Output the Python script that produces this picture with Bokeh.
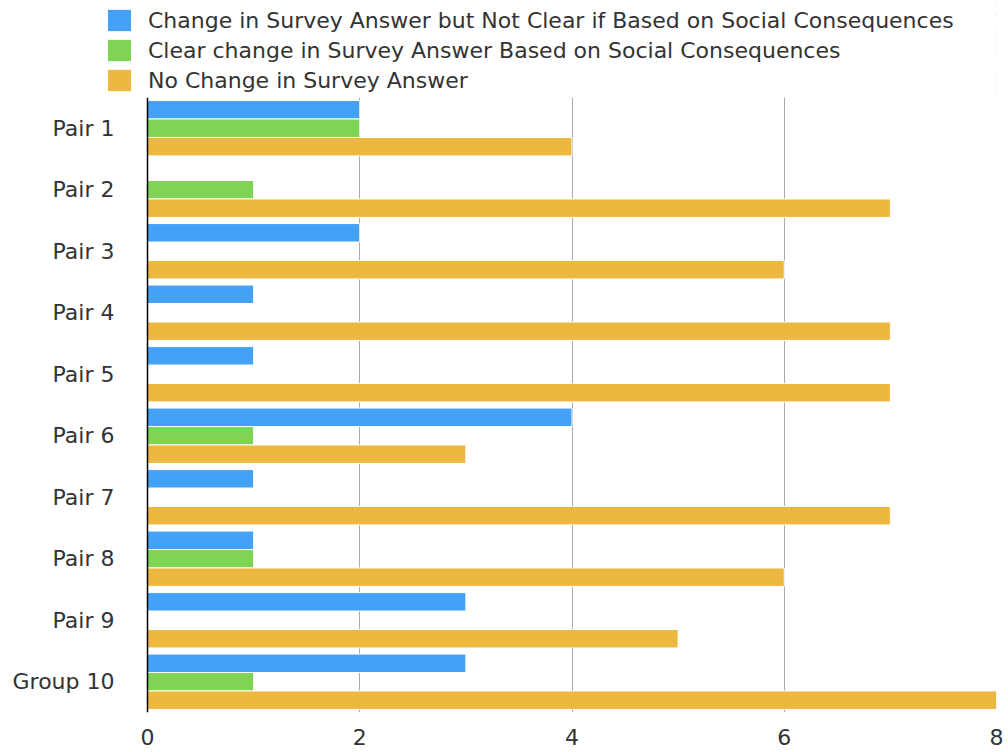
from bokeh.plotting import figure
from bokeh.layouts import column
from bokeh.models import FactorRange, Range1d, ColumnDataSource, Legend, LegendItem, FixedTicker, Span
from bokeh.transform import dodge
from bokeh.embed import file_html
from bokeh.resources import INLINE

categories = ["Pair 1", "Pair 2", "Pair 3", "Pair 4", "Pair 5", "Pair 6", "Pair 7", "Pair 8", "Pair 9", "Group 10"]
unclear_change = [2, 0, 2, 1, 1, 4, 1, 1, 3, 3]
clear_change = [2, 1, 0, 0, 0, 1, 0, 1, 0, 1]
no_change = [4, 7, 6, 7, 7, 3, 7, 6, 5, 8]
series_names = [
    "Change in Survey Answer but Not Clear if Based on Social Consequences",
    "Clear change in Survey Answer Based on Social Consequences",
    "No Change in Survey Answer",
]
colors = ["#43A2F6", "#80D454", "#EDB83F"]
x_ticks = [0, 2, 4, 6, 8]
value_cols = ["a", "b", "c"]
offsets = [0.3, 0.0, -0.3]

FONT = "DejaVu Sans"
FS = "22px"
TXT = "#333333"

src = ColumnDataSource(dict(cat=categories, a=unclear_change, b=clear_change, c=no_change))

# frame starts 40px left of the zero line so the legend squares above can sit there
p = figure(width=1008, height=655, y_range=FactorRange(*categories[::-1]),
           x_range=Range1d(-40 / 106.125, 8),
           output_backend="svg", toolbar_location=None,
           min_border_left=107, min_border_right=12, min_border_top=0, min_border_bottom=40)
p.outline_line_color = None

p.xgrid.grid_line_color = "#AAAAAA"
p.xgrid.grid_line_width = 1
p.ygrid.grid_line_color = None

for col, off, c in zip(value_cols, offsets, colors):
    p.hbar(y=dodge("cat", off, range=p.y_range), right=col, left=0, height=0.3, source=src,
           fill_color=c, line_color="white", line_width=1)

p.add_layout(Span(location=0, dimension="height", line_color="black", line_width=1.5))

p.xaxis.ticker = FixedTicker(ticks=x_ticks)
p.xaxis.axis_line_color = None
p.xaxis.major_tick_line_color = None
p.xaxis.minor_tick_line_color = None
p.xaxis.major_label_text_font = FONT
p.xaxis.major_label_text_font_size = FS
p.xaxis.major_label_text_color = TXT
p.xaxis.major_label_standoff = 10

p.yaxis.axis_line_color = None
p.yaxis.major_tick_line_color = None
p.yaxis.minor_tick_line_color = None
p.yaxis.major_label_text_font = FONT
p.yaxis.major_label_text_font_size = FS
p.yaxis.major_label_text_color = TXT
p.yaxis.major_label_standoff = -13

# legend panel above the chart (its renderers lie outside its visible x range)
lf = figure(width=1008, height=97, x_range=Range1d(-3, -2), y_range=FactorRange(*categories[::-1]),
            x_axis_type=None, y_axis_type=None, output_backend="svg", toolbar_location=None,
            min_border=0)
lf.outline_line_color = None
rs = [lf.hbar(y="cat", right=col, left=0, height=0.3, source=src,
              fill_color=c, line_color="white", line_width=1)
      for col, c in zip(value_cols, colors)]
legend = Legend(items=[LegendItem(label=n, renderers=[r]) for n, r in zip(series_names, rs)],
                location=(-3, 3), orientation="vertical")
legend.label_text_font = FONT
legend.label_text_font_size = FS
legend.label_text_color = TXT
legend.glyph_width = 30
legend.glyph_height = 28
legend.label_height = 28
legend.spacing = 2
legend.padding = 0
legend.margin = 0
legend.label_standoff = 14
legend.border_line_color = None
legend.background_fill_alpha = 0
lf.add_layout(legend)

layout = column(lf, p, spacing=0)
open("out.html", "w").write(file_html(layout, INLINE))
